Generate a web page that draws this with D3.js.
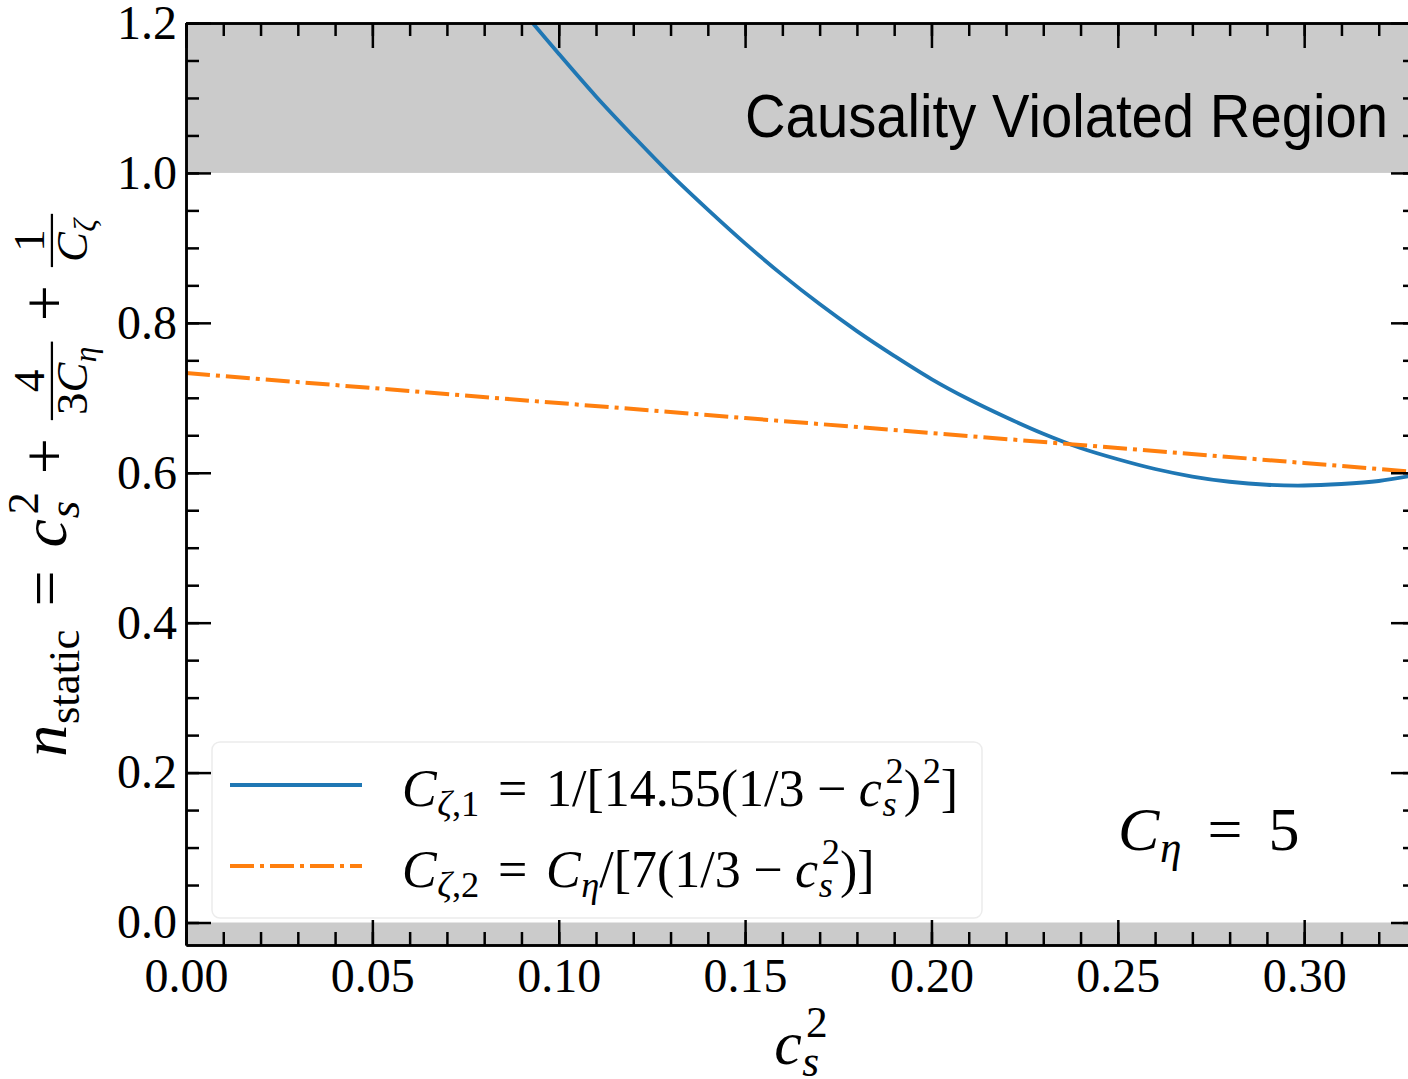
<!DOCTYPE html>
<html>
<head>
<meta charset="utf-8">
<script src="https://cdn.jsdelivr.net/npm/d3@7"></script>
<style>
  body { margin: 0; background: #fff; }
  svg { display: block; }
</style>
</head>
<body>
<svg id="chart"></svg>
<script>
// ---- data ----
const xMajor = [0, 0.05, 0.10, 0.15, 0.20, 0.25, 0.30]
const xTickLabels = ['0.00', '0.05', '0.10', '0.15', '0.20', '0.25', '0.30']
const yMajor = [0, 0.2, 0.4, 0.6, 0.8, 1.0, 1.2]
const yTickLabels = ['0.0', '0.2', '0.4', '0.6', '0.8', '1.0', '1.2']

// C_zeta,1 curve (blue)
const cs2Blue = [0.08, 0.09, 0.10, 0.11, 0.12, 0.13, 0.14, 0.15, 0.16, 0.17, 0.18, 0.19, 0.20,
                 0.21, 0.22, 0.23, 0.24, 0.25, 0.26, 0.27, 0.28, 0.29, 0.30, 0.31, 0.32, 0.33]
const nBlue = [1.281, 1.218, 1.159, 1.102, 1.049, 0.998, 0.951, 0.906, 0.864, 0.825, 0.789, 0.756, 0.725,
               0.698, 0.674, 0.652, 0.633, 0.618, 0.605, 0.595, 0.588, 0.584, 0.583, 0.585, 0.589, 0.597]

// C_zeta,2 curve (orange, dash-dot)
const cs2Orange = [0, 0.05, 0.10, 0.15, 0.20, 0.25, 0.30, 0.33]
const nOrange = [0.733, 0.713, 0.693, 0.673, 0.653, 0.633, 0.613, 0.601]

// shaded bands
const causalLimit = 1.0

const W = 1408
const H = 1079
const pLeft = 186, pRight = 1416, pTop = 23, pBottom = 945

const blue = '#1f77b4'
const orange = '#ff7f0e'
const shade = '#cbcbcb'
const serif = "'Liberation Serif', 'Times New Roman', serif"

let svg = d3.select('#chart').attr('width', W).attr('height', H)

let x = d3.scaleLinear().domain([0, 0.33]).range([pLeft, pRight])
let y = d3.scaleLinear().domain([-0.03, 1.2]).range([pBottom, pTop])

// ---- small math typesetting helpers ----
let word = (g, str, px, py, size, italic) => {
  let t = g.append('text')
    .attr('x', px).attr('y', py)
    .attr('font-family', serif)
    .attr('font-size', size)
    .attr('font-style', italic ? 'italic' : 'normal')
    .attr('fill', '#000')
    .text(str)
  return t.node().getComputedTextLength()
}

let mathRow = (g, parts, px, py, size) => {
  let cx = px
  parts.forEach(p => {
    if (p.gap !== undefined) { cx += p.gap * size; return }
    if (p.frac) { cx += frac(g, p.frac, cx, py, size); return }
    cx += word(g, p.t, cx, py, size, p.it)
    let sw = 0
    if (p.sup) {
      let corr = p.it ? size * 0.07 : size * 0.03
      sw = Math.max(sw, corr + mathRow(g, p.sup, cx + corr, py - size * 0.44, size * 0.7))
    }
    if (p.sub) sw = Math.max(sw, size * 0.01 + mathRow(g, p.sub, cx + size * 0.01, py + size * 0.2, size * 0.7))
    cx += sw
  })
  return cx - px
}

let frac = (g, f, px, py, size) => {
  let gn = g.append('g'), gd = g.append('g')
  let wn = mathRow(gn, f.num, 0, 0, size * 0.7)
  let wd = mathRow(gd, f.den, 0, 0, size * 0.7)
  let w = Math.max(wn, wd) + size * 0.16
  let bar = py - size * 0.22
  gn.attr('transform', `translate(${px + (w - wn) / 2},${bar - size * 0.13})`)
  gd.attr('transform', `translate(${px + (w - wd) / 2},${bar + size * 0.55})`)
  g.append('line')
    .attr('x1', px).attr('x2', px + w)
    .attr('y1', bar).attr('y2', bar)
    .attr('stroke', '#000').attr('stroke-width', size * 0.035)
  return w + size * 0.04
}

// ---- shaded regions ----
svg.append('clipPath').attr('id', 'plot-clip')
  .append('rect')
  .attr('x', pLeft).attr('y', pTop)
  .attr('width', pRight - pLeft).attr('height', pBottom - pTop)

let plot = svg.append('g').attr('clip-path', 'url(#plot-clip)')

plot.append('rect')
  .attr('x', pLeft).attr('width', pRight - pLeft)
  .attr('y', y(1.2)).attr('height', y(causalLimit) - y(1.2))
  .attr('fill', shade)

plot.append('rect')
  .attr('x', pLeft).attr('width', pRight - pLeft)
  .attr('y', y(0)).attr('height', y(-0.03) - y(0))
  .attr('fill', shade)

// ---- curves ----
let blueLine = d3.line()
  .x((d, i) => x(cs2Blue[i]))
  .y(d => y(d))
  .curve(d3.curveCatmullRom)

plot.append('path')
  .attr('d', blueLine(nBlue))
  .attr('fill', 'none')
  .attr('stroke', blue)
  .attr('stroke-width', 3.8)

let orangeLine = d3.line()
  .x((d, i) => x(cs2Orange[i]))
  .y(d => y(d))

plot.append('path')
  .attr('d', orangeLine(nOrange))
  .attr('fill', 'none')
  .attr('stroke', orange)
  .attr('stroke-width', 4)
  .attr('stroke-dasharray', '24,6,4,6')

// ---- axes, ticks pointing inward on all four sides ----
let xMinor = d3.range(0, 0.3301, 0.01)
let yMinor = d3.range(0, 1.2001, 0.05)

let styleAxis = (g) => {
  g.selectAll('.domain').attr('stroke', '#000').attr('stroke-width', 2.5)
  g.selectAll('.tick line').attr('stroke', '#000').attr('stroke-width', 2.5)
  g.selectAll('.tick text')
    .attr('font-family', serif)
    .attr('font-size', 48)
    .attr('fill', '#000')
}

let axisBottomMinor = svg.append('g')
  .attr('transform', `translate(0,${pBottom})`)
  .call(d3.axisBottom(x).tickValues(xMinor).tickSize(-13).tickSizeOuter(0).tickFormat(''))
let axisBottom = svg.append('g')
  .attr('transform', `translate(0,${pBottom})`)
  .call(d3.axisBottom(x).tickValues(xMajor).tickSize(-25).tickSizeOuter(0)
    .tickPadding(13).tickFormat((d, i) => xTickLabels[i]))

let axisTopMinor = svg.append('g')
  .attr('transform', `translate(0,${pTop})`)
  .call(d3.axisTop(x).tickValues(xMinor).tickSize(-13).tickSizeOuter(0).tickFormat(''))
let axisTop = svg.append('g')
  .attr('transform', `translate(0,${pTop})`)
  .call(d3.axisTop(x).tickValues(xMajor).tickSize(-25).tickSizeOuter(0).tickFormat(''))

let axisLeftMinor = svg.append('g')
  .attr('transform', `translate(${pLeft},0)`)
  .call(d3.axisLeft(y).tickValues(yMinor).tickSize(-13).tickSizeOuter(0).tickFormat(''))
let axisLeft = svg.append('g')
  .attr('transform', `translate(${pLeft},0)`)
  .call(d3.axisLeft(y).tickValues(yMajor).tickSize(-25).tickSizeOuter(0)
    .tickPadding(9).tickFormat((d, i) => yTickLabels[i]))

let axisRightMinor = svg.append('g')
  .attr('transform', `translate(${pRight},0)`)
  .call(d3.axisRight(y).tickValues(yMinor).tickSize(-13).tickSizeOuter(0).tickFormat(''))
let axisRight = svg.append('g')
  .attr('transform', `translate(${pRight},0)`)
  .call(d3.axisRight(y).tickValues(yMajor).tickSize(-25).tickSizeOuter(0).tickFormat(''))

;[axisBottomMinor, axisBottom, axisTopMinor, axisTop, axisLeftMinor, axisLeft, axisRightMinor, axisRight]
  .forEach(styleAxis)

// ---- "Causality Violated Region" ----
svg.append('text')
  .attr('x', 745).attr('y', 137)
  .attr('font-family', "'Liberation Sans', Arial, sans-serif")
  .attr('font-size', 62)
  .attr('textLength', 643)
  .attr('lengthAdjust', 'spacingAndGlyphs')
  .attr('fill', '#000')
  .text('Causality Violated Region')

// ---- legend ----
let legend = svg.append('g')
legend.append('rect')
  .attr('x', 212).attr('y', 742)
  .attr('width', 770).attr('height', 176)
  .attr('rx', 8)
  .attr('fill', '#fff').attr('fill-opacity', 0.85)
  .attr('stroke', '#ececec').attr('stroke-width', 1.5)

const legendRows = [
  { color: blue, dash: null, width: 3.8, ly: 785,
    label: [{ t: 'C', it: true, sub: [{ t: 'ζ', it: true }, { t: ',1' }] },
            { gap: 0.36 }, { t: '=' }, { gap: 0.36 },
            { t: '1/[14.55(1/3' }, { gap: 0.24 }, { t: '−' }, { gap: 0.24 },
            { t: 'c', it: true, sup: [{ t: '2' }], sub: [{ t: 's', it: true }] },
            { t: ')', sup: [{ t: '2' }] }, { t: ']' }] },
  { color: orange, dash: '24,6,4,6', width: 4, ly: 866,
    label: [{ t: 'C', it: true, sub: [{ t: 'ζ', it: true }, { t: ',2' }] },
            { gap: 0.36 }, { t: '=' }, { gap: 0.36 },
            { t: 'C', it: true, sub: [{ t: 'η', it: true }] },
            { t: '/[7(1/3' }, { gap: 0.24 }, { t: '−' }, { gap: 0.24 },
            { t: 'c', it: true, sup: [{ t: '2' }], sub: [{ t: 's', it: true }] },
            { t: ')]' }] }
]

legendRows.forEach(r => {
  legend.append('line')
    .attr('x1', 230).attr('x2', 362)
    .attr('y1', r.ly).attr('y2', r.ly)
    .attr('stroke', r.color)
    .attr('stroke-width', r.width)
    .attr('stroke-dasharray', r.dash)
  mathRow(legend, r.label, 402, r.ly + 21, 52)
})

// ---- C_eta = 5 annotation ----
mathRow(svg, [{ t: 'C', it: true, sub: [{ t: 'η', it: true }] },
              { gap: 0.42 }, { t: '=' }, { gap: 0.42 }, { t: '5' }], 1118, 850, 62)

// ---- x label ----
let xl = svg.append('g')
let xlw = mathRow(xl, [{ t: 'c', it: true, sup: [{ t: '2' }], sub: [{ t: 's', it: true }] }], 0, 0, 62)
xl.attr('transform', `translate(${(pLeft + pRight) / 2 - xlw / 2},1064)`)

// ---- y label (rotated) ----
let yl = svg.append('g').attr('transform', `translate(66,${(pTop + pBottom) / 2}) rotate(-90)`)
let ylInner = yl.append('g')
let ylw = mathRow(ylInner, [
  { t: 'n', it: true, sub: [{ t: 'static' }] },
  { gap: 0.36 }, { t: '=' }, { gap: 0.36 },
  { t: 'c', it: true, sup: [{ t: '2' }], sub: [{ t: 's', it: true }] },
  { gap: 0.28 }, { t: '+' }, { gap: 0.28 },
  { frac: { num: [{ t: '4' }], den: [{ t: '3' }, { t: 'C', it: true, sub: [{ t: 'η', it: true }] }] } },
  { gap: 0.28 }, { t: '+' }, { gap: 0.28 },
  { frac: { num: [{ t: '1' }], den: [{ t: 'C', it: true, sub: [{ t: 'ζ', it: true }] }] } }
], 0, 0, 64)
ylInner.attr('transform', `translate(${-ylw / 2},0)`)
</script>
</body>
</html>
